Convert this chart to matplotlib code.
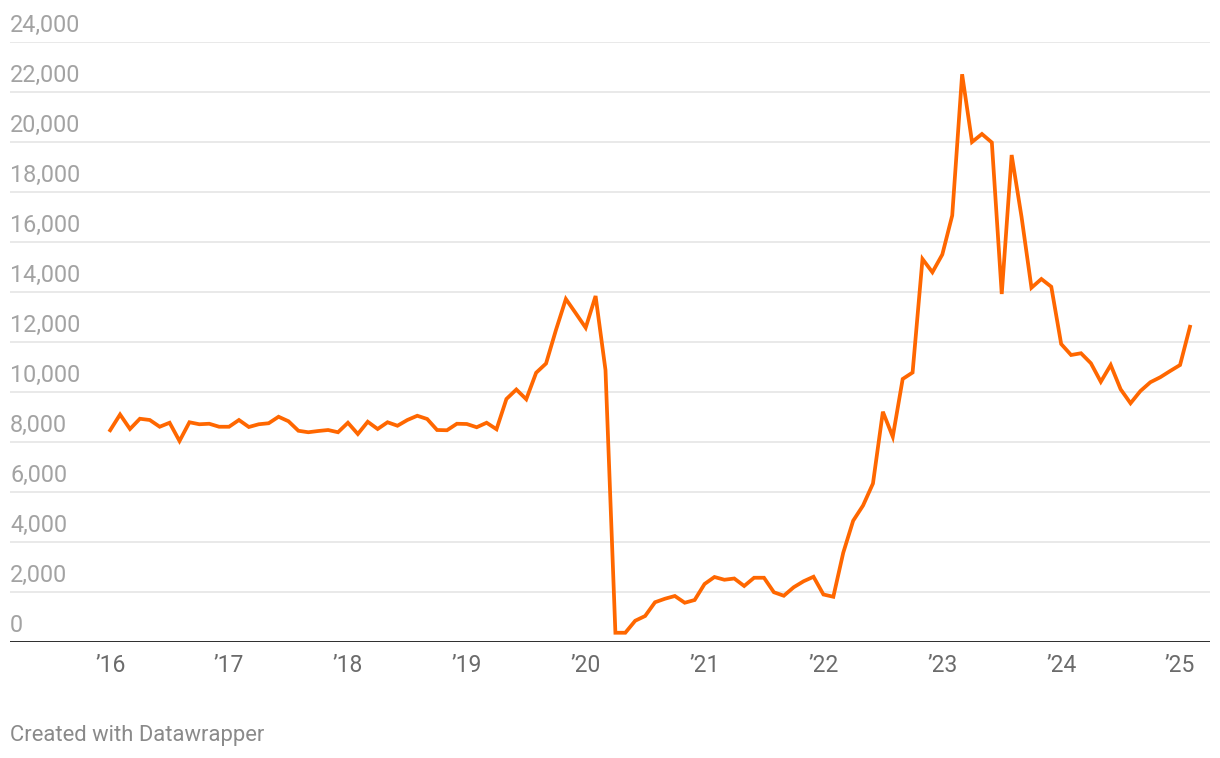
"""
Linea mensual 2016-2025 al estilo Datawrapper.
"""
import numpy as np
import matplotlib.pyplot as plt
from matplotlib import transforms

#<---------------------------Datos---------------------------->
v2016 = [8470, 9100, 8520, 8930, 8880, 8610, 8770, 8040, 8790, 8710, 8730, 8610]
v2017 = [8610, 8880, 8600, 8710, 8750, 9010, 8830, 8450, 8390, 8440, 8480, 8390]
v2018 = [8770, 8320, 8810, 8520, 8790, 8650, 8880, 9050, 8920, 8480, 8470, 8730]
v2019 = [8720, 8590, 8770, 8510, 9720, 10100, 9710, 10770, 11140, 12480, 13720, 13150]
v2020 = [12570, 13840, 10880, 370, 370, 850, 1040, 1590, 1730, 1840, 1570, 1680]
v2021 = [2320, 2600, 2490, 2540, 2240, 2570, 2570, 1990, 1850, 2190, 2430, 2610]
v2022 = [1900, 1810, 3570, 4850, 5460, 6340, 9210, 8210, 10520, 10780, 15320, 14790]
v2023 = [15500, 17060, 22710, 20000, 20320, 19980, 13920, 19480, 17000, 14170, 14520, 14210]
v2024 = [11920, 11480, 11550, 11150, 10410, 11080, 10110, 9550, 10040, 10390, 10590, 10840]
v2025 = [11080, 12610]

year_labels = ["’16", "’17", "’18", "’19", "’20", "’21", "’22", "’23", "’24", "’25"]
y_ticks = [0, 2000, 4000, 6000, 8000, 10000, 12000, 14000, 16000, 18000, 20000, 22000, 24000]

values = np.array(v2016 + v2017 + v2018 + v2019 + v2020 + v2021 + v2022 + v2023 + v2024 + v2025)
months = np.arange(len(values))

#<---------------------------Grafica---------------------------->
plt.rcParams['font.family'] = ['Roboto', 'DejaVu Sans']

W, H = 1220, 758
fig = plt.figure(figsize=(W / 100, H / 100), dpi=100)
ax = fig.add_axes([10 / W, (H - 642) / H, 1200 / W, 600 / H])

px_month = 9.89
ax.set_xlim(-100 / px_month, len(values) - 1 + 20 / px_month)
ax.set_ylim(0, 24000)

for yv in y_ticks[1:]:
    ax.axhline(yv, color="#e3e3e3", lw=1.1, zorder=1)
ax.axhline(0, color="#1a1a1a", lw=2.0, zorder=3)

ax.plot(months, values, color="#ff6700", lw=2.7, solid_joinstyle="miter", zorder=4)

# etiquetas del eje y encima de las lineas
off = transforms.ScaledTranslation(0, 5 / 100, fig.dpi_scale_trans)
trans = transforms.blended_transform_factory(ax.transAxes, ax.transData) + off
for yv in y_ticks:
    ax.text(0, yv, f"{yv:,}", transform=trans, ha="left", va="bottom",
            fontsize=16.8, color="#a3a3a3")

ax.set_xticks(months[::12])
ax.set_xticklabels(year_labels, fontsize=16.5, color="#6b6b6b")
ax.tick_params(axis="x", length=0, pad=9)
ax.set_yticks([])
for s in ax.spines.values():
    s.set_visible(False)

fig.text(10 / W, 1 - 735 / H, "Created with Datawrapper", ha="left", va="center",
         fontsize=15.8, color="#8a8a8a")

fig.savefig("out.png", dpi=100)
